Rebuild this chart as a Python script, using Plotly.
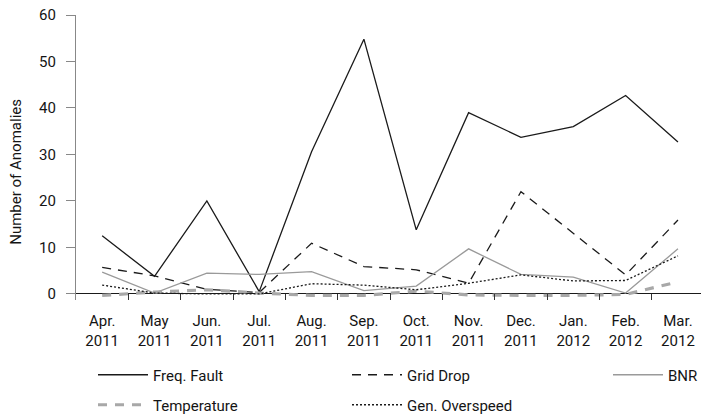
import plotly.graph_objects as go

months = ["Apr.<br>2011", "May<br>2011", "Jun.<br>2011", "Jul.<br>2011", "Aug.<br>2011",
          "Sep.<br>2011", "Oct.<br>2011", "Nov.<br>2011", "Dec.<br>2011", "Jan.<br>2012",
          "Feb.<br>2012", "Mar.<br>2012"]

freq_fault = [12.5, 3.8, 20.0, 0.5, 30.6, 54.8, 13.8, 39.0, 33.7, 36.0, 42.7, 32.7]
grid_drop = [5.7, 3.9, 1.0, 0.3, 10.9, 5.9, 5.2, 2.3, 22.0, 13.0, 4.1, 15.9]
bnr = [4.7, 0.2, 4.5, 4.2, 4.8, 0.7, 1.7, 9.7, 4.2, 3.6, 0.2, 9.7]
temperature = [-0.3, 0.4, 0.9, 0.2, -0.3, -0.3, 0.6, -0.2, -0.3, -0.3, -0.1, 2.6]
gen_overspeed = [1.9, 0.2, 0.0, 0.0, 2.2, 1.9, 0.9, 2.3, 4.1, 2.8, 2.9, 8.2]

y_ticks = [0, 10, 20, 30, 40, 50, 60]
y_title = "Number of Anomalies"

FONT = "Roboto"
INK = "#141414"

series = [
    # name, values, colour, width, dash, legend id
    ("Freq. Fault", freq_fault, "#1a1a1a", 1.3, "solid", "legend"),
    ("Grid Drop", grid_drop, "#1a1a1a", 1.3, "9px,7px", "legend2"),
    ("BNR", bnr, "#9a9a9a", 1.3, "solid", "legend3"),
    ("Temperature", temperature, "#a8a8a8", 3.2, "9px,8px", "legend4"),
    ("Gen. Overspeed", gen_overspeed, "#1a1a1a", 1.3, "2px,2px", "legend5"),
]

fig = go.Figure()
for name, vals, color, width, dash, leg in series:
    fig.add_trace(go.Scatter(
        x=months, y=vals, name=name, mode="lines",
        line=dict(color=color, width=width, dash=dash),
        legend=leg,
    ))

legend_common = dict(
    xref="container", yref="container", xanchor="left", yanchor="middle",
    bgcolor="rgba(0,0,0,0)", borderwidth=0, itemwidth=50,
    font=dict(family=FONT, size=15, color=INK),
)
W, H = 701, 414
legend_pos = {
    "legend": (93, 375),
    "legend2": (347, 375),
    "legend3": (608, 375),
    "legend4": (93, 405),
    "legend5": (347, 405),
}
legends = {}
for key, (px, py) in legend_pos.items():
    legends[key] = dict(legend_common, x=px / W, y=1 - py / H)

fig.update_layout(
    width=W, height=H,
    margin=dict(l=76, r=0, t=15, b=114, autoexpand=False),
    paper_bgcolor="white", plot_bgcolor="white",
    font=dict(family=FONT, size=15, color=INK),
    showlegend=True,
    **legends,
)

# Rotated y-axis title, placed left of the tick labels
fig.add_annotation(
    text=y_title, textangle=-90, showarrow=False,
    xref="paper", yref="paper", x=-60 / 625, y=0.45,
    xanchor="center", yanchor="middle",
    font=dict(family=FONT, size=15, color=INK),
)

fig.update_xaxes(
    type="category", range=[-0.5, 11.44],
    tickson="boundaries", ticks="inside", ticklen=6, tickwidth=1, tickcolor="#333333",
    showline=False, showgrid=False, zeroline=False,
    tickfont=dict(family=FONT, size=15, color=INK),
    tickangle=0, automargin=False,
    ticklabelstandoff=10,
)
fig.update_yaxes(
    range=[-1.3, 60], tickvals=y_ticks,
    ticks="outside", ticklen=9, tickwidth=1, tickcolor="#888888",
    showline=True, linecolor="#888888", linewidth=1.2,
    showgrid=False, zeroline=True, zerolinecolor="#1a1a1a", zerolinewidth=1.3,
    tickfont=dict(family=FONT, size=15, color=INK),
    ticklabelstandoff=7, automargin=False,
)

fig.write_html("out.html")
